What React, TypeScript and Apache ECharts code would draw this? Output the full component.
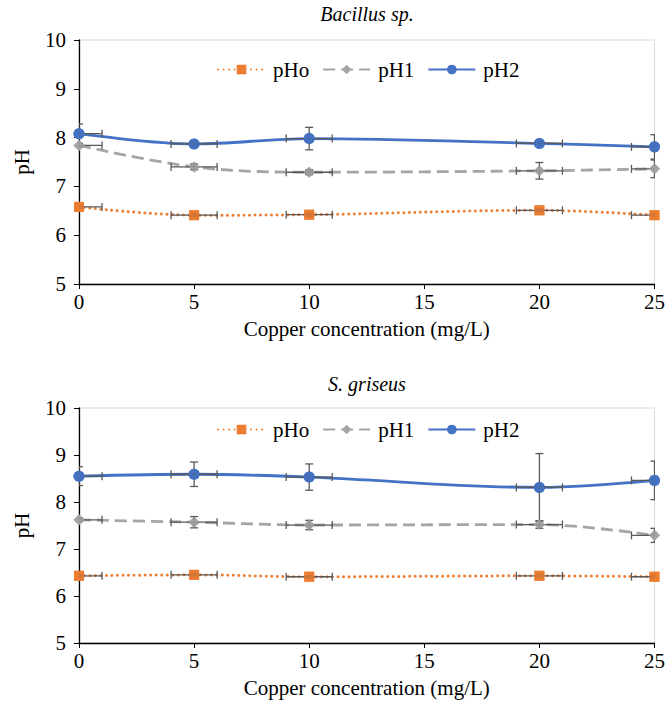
import React, { useEffect, useRef } from "react";
import * as echarts from "echarts";

const X = [0, 5, 10, 20, 25];
const X_ERR = [1, 1, 1, 1, 1];
const SERIES_NAMES = ["pHo", "pH1", "pH2"];
const TITLES = ["Bacillus sp.", "S. griseus"];
const X_NAME = "Copper concentration (mg/L)";
const Y_NAME = "pH";

const bacPHo = [6.58, 6.41, 6.42, 6.51, 6.41];
const bacPH1 = [7.84, 7.4, 7.29, 7.32, 7.36];
const bacPH2 = [8.08, 7.87, 7.98, 7.88, 7.81];
const bacPHoErr = [0.03, 0.03, 0.03, 0.03, 0.03];
const bacPH1Err = [0.04, 0.06, 0.05, 0.17, 0.18];
const bacPH2Err = [0.2, 0.03, 0.23, 0.03, 0.25];

const grPHo = [6.43, 6.45, 6.41, 6.43, 6.41];
const grPH1 = [7.62, 7.57, 7.51, 7.52, 7.29];
const grPH2 = [8.55, 8.59, 8.53, 8.31, 8.46];
const grPHoErr = [0.03, 0.03, 0.03, 0.03, 0.03];
const grPH1Err = [0.04, 0.12, 0.1, 0.08, 0.15];
const grPH2Err = [0.2, 0.26, 0.28, 0.72, 0.41];

const COLORS = ["#ED7D31", "#A5A5A5", "#4472C4"];
const SYMBOLS = ["rect", "diamond", "circle"];
const SYMBOL_SIZES = [10, 11, 11];
const LINE_TYPES: any[] = [[0.01, 5.5], [12, 6], "solid"];
const FONT = "'Liberation Serif', 'DejaVu Serif', serif";
const FS = 21;

function errRender(params: any, api: any) {
  const x = api.value(0);
  const y = api.value(1);
  const xe = api.value(2);
  const ye = api.value(3);
  const l = api.coord([x - xe, y]);
  const r = api.coord([x + xe, y]);
  const t = api.coord([x, y + ye]);
  const b = api.coord([x, y - ye]);
  const cap = 4;
  const style = { stroke: "#595959", lineWidth: 1.3 };
  const mk = (x1: number, y1: number, x2: number, y2: number) => ({
    type: "line",
    shape: { x1, y1, x2, y2 },
    style,
  });
  return {
    type: "group",
    children: [
      mk(l[0], l[1], r[0], r[1]),
      mk(l[0], l[1] - cap, l[0], l[1] + cap),
      mk(r[0], r[1] - cap, r[0], r[1] + cap),
      mk(t[0], t[1], b[0], b[1]),
      mk(t[0] - cap, t[1], t[0] + cap, t[1]),
      mk(b[0] - cap, b[1], b[0] + cap, b[1]),
    ],
  };
}

export default function App() {
  const ref = useRef<HTMLDivElement>(null);
  useEffect(() => {
    document.body.style.margin = "0";
    if (!ref.current) return;
    const chart = echarts.init(ref.current, undefined, { renderer: "svg" });
    const charts = [
      { vals: [bacPHo, bacPH1, bacPH2], errs: [bacPHoErr, bacPH1Err, bacPH2Err] },
      { vals: [grPHo, grPH1, grPH2], errs: [grPHoErr, grPH1Err, grPH2Err] },
    ];
    const grids = [
      { left: 79, top: 40, width: 577, height: 244 },
      { left: 79, top: 408, width: 577, height: 235 },
    ];
    const series: any[] = [];
    charts.forEach((c, gi) => {
      c.vals.forEach((v, si) => {
        series.push({
          type: "line",
          name: SERIES_NAMES[si],
          xAxisIndex: gi,
          yAxisIndex: gi,
          data: X.map((x, i) => [x, v[i]]),
          smooth: 0.35,
          symbol: SYMBOLS[si],
          symbolSize: SYMBOL_SIZES[si],
          itemStyle: { color: COLORS[si] },
          lineStyle: { color: COLORS[si], width: si === 0 ? 3 : 2.8, type: LINE_TYPES[si], cap: si === 0 ? "round" : "butt" },
          z: 2,
        });
      });
      c.vals.forEach((v, si) => {
        series.push({
          type: "custom",
          name: "err" + gi + si,
          xAxisIndex: gi,
          yAxisIndex: gi,
          renderItem: errRender,
          clip: true,
          encode: { x: 0, y: 1 },
          data: X.map((x, i) => [x, v[i], X_ERR[i], c.errs[si][i]]),
          z: 3,
        });
      });
      c.vals.forEach((v, si) => {
        series.push({
          type: "scatter",
          name: "mk" + gi + si,
          xAxisIndex: gi,
          yAxisIndex: gi,
          data: X.map((x, i) => [x, v[i]]),
          symbol: SYMBOLS[si],
          symbolSize: SYMBOL_SIZES[si],
          itemStyle: { color: COLORS[si] },
          z: 4,
        });
      });
    });
    const axisLabel = { fontFamily: FONT, fontSize: FS, color: "#000" };
    const legendBase = {
      data: SERIES_NAMES,
      left: 217,
      padding: 0,
      itemWidth: 47,
      itemHeight: 12,
      itemGap: 13,
      textStyle: { fontFamily: FONT, fontSize: FS, color: "#000", padding: [0, 0, 0, 3] },
    };
    chart.setOption({
      animation: false,
      grid: grids.map((g) => ({ ...g, show: true, borderColor: "#d9d9d9", borderWidth: 1, backgroundColor: "transparent" })),
      legend: [
        { ...legendBase, top: 59 },
        { ...legendBase, top: 419 },
      ],
      graphic: TITLES.map((t, i) => ({
        type: "text",
        x: 367,
        y: i === 0 ? 14 : 384,
        style: {
          text: t,
          font: `italic 20px ${FONT}`,
          fill: "#000",
          textAlign: "center",
          textVerticalAlign: "middle",
        },
      })),
      xAxis: grids.map((g, i) => ({
        type: "value",
        gridIndex: i,
        min: 0,
        max: 25,
        interval: 5,
        name: X_NAME,
        nameLocation: "middle",
        nameGap: 34,
        nameTextStyle: { fontFamily: FONT, fontSize: FS, color: "#000" },
        axisLine: { lineStyle: { color: "#000", width: 1.3 } },
        axisTick: { show: true, length: 5, lineStyle: { color: "#000" } },
        axisLabel: { ...axisLabel, margin: 7 },
        splitLine: { show: false },
      })),
      yAxis: grids.map((g, i) => ({
        type: "value",
        gridIndex: i,
        min: 5,
        max: 10,
        interval: 1,
        name: Y_NAME,
        nameLocation: "middle",
        nameGap: 47,
        nameRotate: 90,
        nameTextStyle: { fontFamily: FONT, fontSize: FS, color: "#000" },
        axisLine: { show: true, lineStyle: { color: "#000", width: 1.3 } },
        axisTick: { show: true, length: 5, lineStyle: { color: "#000" } },
        axisLabel: { ...axisLabel, margin: 13 },
        splitLine: { show: false },
      })),
      series,
    });
    return () => chart.dispose();
  }, []);
  return <div ref={ref} style={{ width: 668, height: 705 }} />;
}
